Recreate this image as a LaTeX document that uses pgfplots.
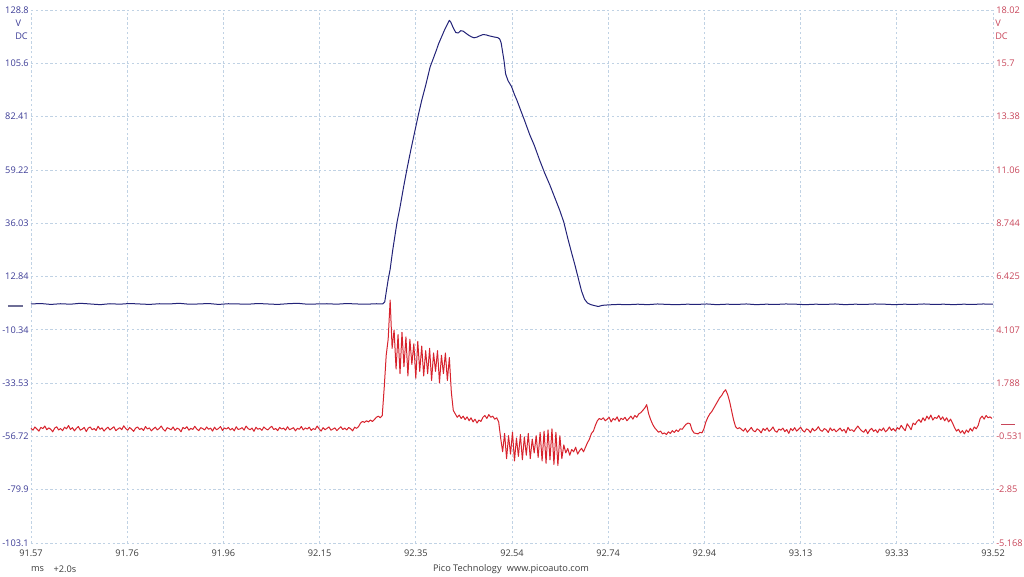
\documentclass[border=0pt]{standalone}
\usepackage{fontspec}
\setmainfont{Open Sans}
\usepackage{pgfplots}
\usepackage{pgfplotstable}
\pgfplotsset{compat=1.18}
\definecolor{bluelab}{RGB}{60,60,150}
\definecolor{redlab}{RGB}{200,70,90}
\definecolor{gridc}{RGB}{192,210,228}
\definecolor{bluetrace}{RGB}{35,35,120}
\definecolor{redtrace}{RGB}{215,35,45}
\definecolor{txt}{RGB}{60,60,60}
\newcommand{\lf}{\fontsize{6.9}{8}\selectfont}

% blue channel (left axis, V), time in ms
\pgfplotstableread{
t v
91.57 0.9
91.59 1.1
91.61 0.7
91.63 1.0
91.65 0.8
91.67 1.2
91.69 0.9
91.71 0.6
91.73 1.0
91.75 0.8
91.77 1.1
91.79 0.9
91.81 0.7
91.83 1.0
91.85 0.9
91.87 1.2
91.89 0.8
91.91 0.9
91.93 1.1
91.95 0.7
91.97 1.0
91.99 0.9
92.01 0.8
92.03 1.1
92.05 0.9
92.07 0.7
92.09 1.0
92.11 1.2
92.13 0.8
92.15 0.9
92.17 1.0
92.19 0.8
92.21 1.1
92.23 0.9
92.25 0.8
92.27 1.0
92.283 0.9
92.287 1.8
92.290 6.0
92.294 11.5
92.298 16.0
92.303 24.0
92.308 31.0
92.312 36.5
92.318 43.0
92.325 51.5
92.332 59.5
92.340 68.0
92.348 76.0
92.355 83.0
92.362 89.5
92.370 96.0
92.379 104.0
92.386 108.0
92.392 111.5
92.396 114.0
92.402 117.0
92.409 120.5
92.415 123.0
92.418 124.3
92.421 123.5
92.426 121.0
92.431 119.0
92.436 118.8
92.441 119.8
92.446 119.6
92.451 118.8
92.456 118.0
92.462 117.2
92.468 116.7
92.474 117.0
92.480 117.6
92.486 118.1
92.492 118.0
92.498 117.6
92.504 117.3
92.510 117.0
92.516 116.8
92.520 116.2
92.523 114.5
92.526 110.5
92.529 106.5
92.532 101.0
92.537 98.0
92.544 95.5
92.550 92.0
92.555 89.5
92.562 85.5
92.570 81.0
92.581 74.5
92.590 70.0
92.601 63.5
92.611 58.0
92.622 52.5
92.632 47.0
92.642 41.5
92.650 36.5
92.658 29.5
92.666 23.0
92.673 17.5
92.680 11.5
92.686 6.5
92.692 3.0
92.698 1.3
92.705 0.6
92.712 0.2
92.720 -0.2
92.728 0.3
92.74 0.5
92.76 0.7
92.78 0.6
92.80 0.8
92.82 0.6
92.84 0.9
92.86 0.7
92.88 0.6
92.90 0.8
92.92 0.7
92.94 0.9
92.96 0.6
92.98 0.8
93.00 0.7
93.02 0.9
93.04 0.6
93.06 0.8
93.08 0.7
93.10 0.9
93.12 0.8
93.14 0.6
93.16 0.8
93.18 0.7
93.20 0.9
93.22 0.6
93.24 0.8
93.26 0.7
93.28 0.9
93.30 0.8
93.32 0.6
93.34 0.8
93.36 0.7
93.38 0.9
93.40 0.7
93.42 0.8
93.44 0.6
93.46 0.8
93.48 0.7
93.50 0.9
93.52 0.8
}\bluetab

% red channel (right axis, V), one sample every 0.004 ms from 91.57 ms
\pgfplotstableread[row sep=\\]{
v\\
-0.18\\ -0.26\\ -0.12\\ -0.21\\ -0.30\\ -0.14\\ -0.19\\ -0.08\\ -0.24\\ -0.16\\
-0.22\\ -0.33\\ -0.17\\ -0.11\\ -0.25\\ -0.19\\ -0.28\\ -0.13\\ -0.20\\ -0.06\\
-0.23\\ -0.15\\ -0.29\\ -0.18\\ -0.10\\ -0.26\\ -0.21\\ -0.14\\ -0.32\\ -0.17\\
-0.12\\ -0.24\\ -0.19\\ -0.27\\ -0.09\\ -0.22\\ -0.16\\ -0.30\\ -0.20\\ -0.13\\
-0.25\\ -0.18\\ -0.11\\ -0.28\\ -0.21\\ -0.15\\ -0.24\\ -0.07\\ -0.19\\ -0.26\\
-0.14\\ -0.22\\ -0.31\\ -0.17\\ -0.12\\ -0.23\\ -0.18\\ -0.27\\ -0.10\\ -0.21\\
-0.16\\ -0.29\\ -0.20\\ -0.13\\ -0.25\\ -0.18\\ -0.08\\ -0.22\\ -0.30\\ -0.15\\
-0.19\\ -0.24\\ -0.12\\ -0.27\\ -0.17\\ -0.21\\ -0.33\\ -0.14\\ -0.20\\ -0.11\\
-0.26\\ -0.18\\ -0.23\\ -0.09\\ -0.21\\ -0.28\\ -0.15\\ -0.19\\ -0.25\\ -0.12\\
-0.22\\ -0.17\\ -0.30\\ -0.13\\ -0.24\\ -0.19\\ -0.10\\ -0.27\\ -0.16\\ -0.21\\
-0.14\\ -0.25\\ -0.18\\ -0.29\\ -0.11\\ -0.23\\ -0.20\\ -0.15\\ -0.26\\ -0.08\\
-0.19\\ -0.24\\ -0.17\\ -0.31\\ -0.13\\ -0.22\\ -0.18\\ -0.27\\ -0.12\\ -0.20\\
-0.25\\ -0.16\\ -0.09\\ -0.23\\ -0.19\\ -0.28\\ -0.14\\ -0.21\\ -0.17\\ -0.26\\
-0.11\\ -0.24\\ -0.20\\ -0.15\\ -0.29\\ -0.18\\ -0.22\\ -0.10\\ -0.25\\ -0.16\\
-0.21\\ -0.13\\ -0.27\\ -0.19\\ -0.23\\ -0.08\\ -0.20\\ -0.30\\ -0.15\\ -0.24\\
-0.18\\ -0.12\\ -0.26\\ -0.21\\ -0.16\\ -0.28\\ -0.19\\ -0.11\\ -0.23\\ -0.17\\
-0.25\\ -0.14\\ -0.20\\ -0.29\\ -0.13\\ -0.18\\ -0.10\\ 0.05\\ 0.12\\ 0.08\\
0.15\\ 0.10\\ 0.18\\ 0.12\\ 0.20\\ 0.30\\ 0.35\\ 0.28\\ 0.38\\ 1.60\\
3.00\\ 3.70\\ 5.40\\ 3.30\\ 4.10\\ 2.40\\ 3.90\\ 2.20\\ 4.00\\ 2.50\\
3.80\\ 2.10\\ 3.70\\ 2.60\\ 3.50\\ 2.00\\ 3.60\\ 2.30\\ 3.40\\ 2.10\\
3.20\\ 2.20\\ 3.30\\ 1.90\\ 3.10\\ 2.30\\ 3.20\\ 1.80\\ 3.00\\ 2.20\\
3.10\\ 1.90\\ 2.90\\ 1.40\\ 0.60\\ 0.45\\ 0.30\\ 0.40\\ 0.25\\ 0.35\\
0.20\\ 0.32\\ 0.15\\ 0.28\\ 0.10\\ 0.22\\ 0.05\\ 0.18\\ 0.12\\ 0.30\\
0.38\\ 0.25\\ 0.42\\ 0.30\\ 0.35\\ 0.22\\ 0.28\\ 0.10\\ -0.60\\ -1.20\\
-0.40\\ -1.50\\ -0.50\\ -1.30\\ -0.35\\ -1.60\\ -0.60\\ -1.40\\ -0.45\\ -1.55\\
-0.55\\ -1.35\\ -0.40\\ -1.50\\ -0.65\\ -1.25\\ -0.50\\ -1.45\\ -0.35\\ -1.60\\
-0.30\\ -1.70\\ -0.25\\ -1.55\\ -0.20\\ -1.75\\ -0.35\\ -1.80\\ -0.50\\ -1.50\\
-0.90\\ -1.25\\ -1.05\\ -1.35\\ -1.10\\ -1.20\\ -1.00\\ -1.30\\ -1.15\\ -1.05\\
-1.20\\ -1.00\\ -0.80\\ -0.65\\ -0.40\\ -0.30\\ -0.05\\ 0.15\\ 0.25\\ 0.20\\
0.28\\ 0.15\\ 0.22\\ 0.30\\ 0.10\\ 0.25\\ 0.18\\ 0.32\\ 0.12\\ 0.26\\
0.20\\ 0.30\\ 0.15\\ 0.25\\ 0.35\\ 0.22\\ 0.38\\ 0.30\\ 0.45\\ 0.50\\
0.60\\ 0.70\\ 0.85\\ 0.45\\ 0.20\\ 0.00\\ -0.15\\ -0.25\\ -0.35\\ -0.30\\
-0.42\\ -0.38\\ -0.45\\ -0.33\\ -0.40\\ -0.28\\ -0.36\\ -0.25\\ -0.32\\ -0.20\\
-0.22\\ -0.10\\ 0.00\\ 0.05\\ 0.02\\ -0.25\\ -0.38\\ -0.40\\ -0.42\\ -0.35\\
-0.38\\ -0.20\\ 0.10\\ 0.30\\ 0.45\\ 0.55\\ 0.70\\ 0.85\\ 1.00\\ 1.15\\
1.25\\ 1.40\\ 1.50\\ 1.30\\ 1.00\\ 0.60\\ 0.20\\ -0.10\\ -0.20\\ -0.15\\
-0.22\\ -0.30\\ -0.18\\ -0.35\\ -0.25\\ -0.14\\ -0.28\\ -0.33\\ -0.20\\ -0.26\\
-0.38\\ -0.19\\ -0.27\\ -0.16\\ -0.31\\ -0.24\\ -0.12\\ -0.29\\ -0.35\\ -0.21\\
-0.26\\ -0.17\\ -0.32\\ -0.23\\ -0.40\\ -0.19\\ -0.28\\ -0.15\\ -0.30\\ -0.22\\
-0.13\\ -0.27\\ -0.34\\ -0.20\\ -0.25\\ -0.37\\ -0.18\\ -0.29\\ -0.23\\ -0.11\\
-0.26\\ -0.31\\ -0.19\\ -0.24\\ -0.36\\ -0.16\\ -0.28\\ -0.21\\ -0.33\\ -0.25\\
-0.17\\ -0.30\\ -0.22\\ -0.38\\ -0.14\\ -0.27\\ -0.24\\ -0.32\\ -0.19\\ -0.08\\
-0.20\\ -0.29\\ -0.35\\ -0.22\\ -0.41\\ -0.26\\ -0.18\\ -0.31\\ -0.24\\ -0.37\\
-0.21\\ -0.28\\ -0.16\\ -0.33\\ -0.25\\ -0.12\\ -0.27\\ -0.19\\ -0.30\\ -0.15\\
-0.22\\ -0.05\\ -0.18\\ -0.28\\ 0.02\\ -0.10\\ -0.24\\ 0.05\\ -0.02\\ 0.12\\
0.20\\ 0.08\\ 0.28\\ 0.15\\ 0.35\\ 0.22\\ 0.40\\ 0.18\\ 0.30\\ 0.25\\
0.38\\ 0.20\\ 0.32\\ 0.15\\ 0.28\\ 0.10\\ 0.22\\ 0.05\\ -0.15\\ -0.30\\
-0.22\\ -0.38\\ -0.28\\ -0.42\\ -0.25\\ -0.35\\ -0.18\\ -0.30\\ -0.12\\ -0.20\\
-0.05\\ 0.25\\ 0.35\\ 0.22\\ 0.38\\ 0.28\\ 0.32\\ 0.25\\
}\redtab

\begin{document}
\begin{tikzpicture}
\useasboundingbox (-23.25pt,-24.75pt) rectangle (744.75pt,407.25pt);
\begin{axis}[
  scale only axis, width=721.5pt, height=399.75pt,
  xmin=91.57, xmax=93.52, ymin=-103.1, ymax=128.8,
  xtick={91.57,91.765,91.96,92.155,92.35,92.545,92.74,92.935,93.13,93.325,93.52},
  xticklabels={91.57,91.76,91.96,92.15,92.35,92.54,92.74,92.94,93.13,93.33,93.52},
  ytick={-103.1,-79.91,-56.72,-33.53,-10.34,12.85,36.04,59.23,82.42,105.61,128.8},
  yticklabels={-103.1,-79.9,-56.72,-33.53,-10.34,12.84,36.03,59.22,82.41,105.6,128.8},
  grid=major,
  major grid style={gridc, line width=0.6pt, dash pattern=on 1.8pt off 1.8pt},
  axis line style={draw=none},
  major tick length=0pt,
  xticklabel style={font=\lf, color=txt, inner sep=0pt, yshift=-5pt},
  yticklabel style={font=\lf, color=bluelab, inner sep=0pt, xshift=-1.5pt},
  clip=false,
]
\addplot[bluetrace, line width=0.75pt, line join=round] table[x=t, y=v] {\bluetab};
\draw[color={rgb,255:red,110;green,110;blue,150}, line width=1pt] ([xshift=-17.25pt]axis cs:91.57,0) -- ([xshift=-6pt]axis cs:91.57,0);
\node[font=\lf, color=bluelab, inner sep=0pt] at ([xshift=-9.4pt, yshift=-9.75pt]rel axis cs:0,1) {V};
\node[font=\lf, color=bluelab, inner sep=0pt] at ([xshift=-7.1pt, yshift=-19.5pt]rel axis cs:0,1) {DC};
\node[font=\lf, color=txt, inner sep=0pt] at ([xshift=4.9pt, yshift=-19.5pt]rel axis cs:0,0) {ms};
\node[font=\lf, color=txt, inner sep=0pt] at ([xshift=25.5pt, yshift=-19.5pt]rel axis cs:0,0) {+2.0s};
\node[font=\lf, color=txt, inner sep=0pt] at ([xshift=360pt, yshift=-19.5pt]rel axis cs:0,0) {Pico Technology\hspace{4pt}www.picoauto.com};
\end{axis}
\begin{axis}[
  scale only axis, width=721.5pt, height=399.75pt,
  xmin=91.57, xmax=93.52, ymin=-5.168, ymax=18.02,
  hide x axis,
  axis y line*=right,
  ytick={-5.168,-2.8492,-0.5304,1.7884,4.1072,6.426,8.7448,11.0636,13.3824,15.7012,18.02},
  yticklabels={-5.168,-2.85,-0.531,1.788,4.107,6.425,8.744,11.06,13.38,15.7,18.02},
  axis line style={draw=none},
  major tick length=0pt,
  yticklabel style={font=\lf, color=redlab, inner sep=0pt, anchor=west, xshift=2.25pt},
  clip=false,
]
\addplot[redtrace, line width=0.75pt, line join=round] table[x expr=91.57+0.004*\coordindex, y=v] {\redtab};
\draw[redlab, line width=1pt] ([xshift=6pt]axis cs:93.52,0) -- ([xshift=16.5pt]axis cs:93.52,0);
\node[font=\lf, color=redlab, inner sep=0pt, anchor=west] at ([xshift=1.5pt, yshift=-9.75pt]rel axis cs:1,1) {V};
\node[font=\lf, color=redlab, inner sep=0pt, anchor=west] at ([xshift=1.5pt, yshift=-19.5pt]rel axis cs:1,1) {DC};
\end{axis}
\end{tikzpicture}
\end{document}
